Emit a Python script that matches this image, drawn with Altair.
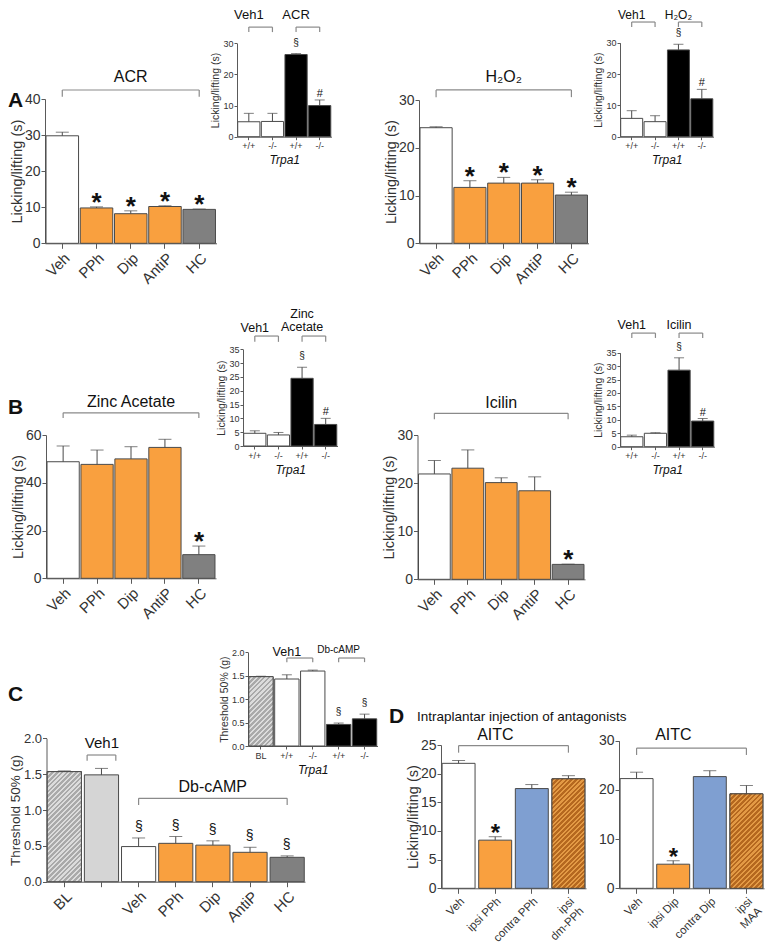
import math
import altair as alt
import pandas as pd

# ---------------- data ----------------
A1_cats = ["Veh", "PPh", "Dip", "AntiP", "HC"]
A1_vals = [29.8, 9.8, 8.2, 10.2, 9.4]
A1_errs = [30.8, 10.1, 9.0, 10.4, 9.5]
A1_grp = ["veh", "ant", "ant", "ant", "hc"]
A1_sig = ["", "*", "*", "*", "*"]

KO_cats = ["+/+|v", "-/-|v", "+/+|d", "-/-|d"]
KO_grp = ["veh", "veh", "ko", "ko"]
KO_sig = ["", "", "§", "#"]

A1i_vals = [4.8, 4.9, 26.4, 10.0]
A1i_errs = [7.5, 7.5, 26.7, 11.8]

A2_vals = [24.2, 11.7, 12.6, 12.6, 10.1]
A2_errs = [24.4, 13.1, 13.8, 13.3, 10.7]
A2_sig = ["", "*", "*", "*", "*"]

A2i_vals = [5.85, 4.8, 27.7, 12.1]
A2i_errs = [8.3, 6.7, 29.5, 15.1]

B1_vals = [48.8, 47.7, 50.0, 54.8, 9.9]
B1_errs = [55.4, 53.7, 55.1, 58.2, 13.5]
B_sig = ["", "", "", "", "*"]

B1i_vals = [4.6, 4.0, 24.5, 7.8]
B1i_errs = [5.5, 4.9, 28.5, 10.0]

B2_vals = [21.9, 23.1, 20.1, 18.4, 3.1]
B2_errs = [24.7, 26.9, 21.1, 21.3, 3.15]

B2i_vals = [3.7, 5.0, 28.5, 9.55]
B2i_errs = [4.3, 5.2, 33.1, 10.5]

C_cats = ["BL", "Veh1", "Veh", "PPh", "Dip", "AntiP", "HC"]
C_vals = [1.535, 1.49, 0.49, 0.535, 0.51, 0.41, 0.34]
C_errs = [1.545, 1.58, 0.61, 0.63, 0.57, 0.48, 0.36]
C_grp = ["bl", "veh1", "veh", "ant", "ant", "ant", "hc"]
C_sig = ["", "", "§", "§", "§", "§", "§"]

Ci_cats = ["BL", "+/+|v", "-/-|v", "+/+|d", "-/-|d"]
Ci_vals = [1.48, 1.43, 1.60, 0.46, 0.58]
Ci_errs = [1.49, 1.52, 1.62, 0.49, 0.68]
Ci_grp = ["bl", "veh", "veh", "ko", "ko"]
Ci_sig = ["", "", "", "§", "§"]

D1_cats = ["Veh", "ipsi PPh", "contra PPh", "ipsi dm-PPh"]
D1_vals = [21.8, 8.4, 17.4, 19.1]
D1_errs = [22.3, 9.0, 18.1, 19.65]
D_grp = ["veh", "ant", "contra", "hatch"]
D_sig = ["", "*", "", ""]

D2_cats = ["Veh", "ipsi Dip", "contra Dip", "ipsi MAA"]
D2_vals = [22.3, 4.9, 22.7, 19.2]
D2_errs = [23.6, 5.6, 23.9, 20.9]

# ---------------- styling / layout ----------------
M = 8
W, H = 757, 936
FONT = "Liberation Sans"
AX = "#5a5a5a"
TXT = "#333333"
BR = "#8a8a8a"
EDGE = "#4a4a4a"

GROUPS = ["veh", "ant", "hc", "ko", "bl", "veh1", "contra", "hatch"]
GROUP_COLORS = ["#ffffff", "#f9a03f", "#808080", "#000000", "#c3c3c3", "#d5d5d5", "#7f9fd1", "#c97d30"]
COLOR = alt.Scale(domain=GROUPS, range=GROUP_COLORS)
HATCH = {"hatch": ("#b5681f", "#e39a45"), "bl": ("#a9a9a9", "#dcdcdc")}

GLYPH_MAIN = {"*": (26, "bold", 4), "§": (14, "normal", -7)}
GLYPH_INSET = {"§": (10, "normal", -8), "#": (11, "normal", -3)}


def px(x):
    return x - M


def py(y):
    return y - M


def hatch_fill(w, h, c1, c2, period=3.4):
    """Diagonal (/) stripes as a hard-stop linear gradient over the bar's box."""
    r = w / h
    k = (r + 1) / (r * r + 1)
    n = max(2, round((w + h) / math.sqrt(2) / period))
    stops = []
    for i in range(n):
        a, m, b = i / n, (i + 0.55) / n, (i + 1) / n
        stops += [alt.GradientStop(offset=a, color=c1), alt.GradientStop(offset=m, color=c1),
                  alt.GradientStop(offset=m, color=c2), alt.GradientStop(offset=b, color=c2)]
    return alt.LinearGradient(gradient="linear", stops=stops, x1=0, y1=0, x2=r * k, y2=k)


def build_panel(cats, vals, errs, grps, sigs, L, brackets):
    """Returns a flat list of unit layers; every layer carries the same explicit scales."""
    df = pd.DataFrame({"cat": cats, "val": vals, "err": errs, "grp": grps, "sig": sigs})
    xs = alt.Scale(domain=list(cats), range=[px(L["x0"]), px(L["x1"])],
                   paddingInner=L["pin"], paddingOuter=L["pout"])
    ys = alt.Scale(domain=L["ydom"], range=[py(L["y0"]), py(L["y1"])], nice=False, zero=True)
    big = L["main"]

    xkw = dict(orient="bottom", offset=py(L["y0"]) - H, domainColor=AX, tickColor=AX,
               labelColor=TXT, labelFont=FONT, grid=False, labelOverlap=False,
               tickSize=5 if big else 3, labelFontSize=L["xlab"], labelPadding=2)
    if big:
        xkw.update(labelAngle=-45, title=None)
    else:
        xkw.update(labelAngle=0, title="Trpa1", titleFontStyle="italic", titleFont=FONT,
                   titleFontSize=12, titleFontWeight="normal", titleColor="#111", titlePadding=4)
    if "xexpr" in L:
        xkw["labelExpr"] = L["xexpr"]

    ykw = dict(orient="left", offset=-px(L["x0"]), values=L["yticks"], title=L["ytitle"],
               domainColor=AX, tickColor=AX, labelColor=TXT, labelFont=FONT, grid=False,
               labelOverlap=False, tickSize=4 if big else 3,
               labelFontSize=L.get("ylab", 14 if big else 9), labelPadding=1,
               titleFont=FONT, titleFontSize=L.get("ytsize", 14.5 if big else 10.5),
               titleFontWeight="normal", titleColor=TXT, titlePadding=L.get("ytpad", 0 if big else 2))
    if "yfmt" in L:
        ykw["format"] = L["yfmt"]

    X = lambda f, **k: alt.X(f, scale=xs, axis=None, **k)
    Y = lambda f: alt.Y(f, scale=ys, axis=None)

    base = alt.Chart(df)
    layers = [
        base.mark_bar(stroke=EDGE, strokeWidth=1).encode(
            x=alt.X("cat:N", scale=xs, axis=alt.Axis(**xkw)),
            y=alt.Y("val:Q", scale=ys, axis=alt.Axis(**ykw)),
            color=alt.Color("grp:N", scale=COLOR, legend=None)),
    ]
    # hatched bars: overlay with a striped fill sized to the bar's box
    n = len(cats)
    step = (L["x1"] - L["x0"]) / (n - L["pin"] + 2 * L["pout"])
    bw = step * (1 - L["pin"])
    span = L["ydom"][1] - L["ydom"][0]
    for c, v, g in zip(cats, vals, grps):
        if g in HATCH:
            bh = v / span * (L["y0"] - L["y1"])
            layers.append(base.transform_filter(alt.datum.cat == c).mark_bar(
                fill=hatch_fill(bw, bh, *HATCH[g]), stroke=EDGE, strokeWidth=1).encode(
                x=X("cat:N"), y=Y("val:Q")))
    layers += [
        base.mark_rule(color=EDGE, strokeWidth=1).encode(
            x=X("cat:N"), y=Y("val:Q"), y2="err:Q"),
        base.mark_tick(color=EDGE, thickness=1, size=L["cap"]).encode(
            x=X("cat:N"), y=Y("err:Q")),
    ]
    gl = L.get("glyph", GLYPH_MAIN if big else GLYPH_INSET)
    for g, (size, weight, dy) in gl.items():
        layers.append(
            base.transform_filter(alt.datum.sig == g).mark_text(
                font=FONT, fontSize=size, fontWeight=weight, dy=dy, baseline="alphabetic",
                color="#111").encode(x=X("cat:N"), y=Y("err:Q"), text="sig:N"))

    for b in brackets:
        hd = pd.DataFrame({"a": [b["a"]], "b": [b["b"]], "y": [b["y"]], "yt": [b["yt"]]})
        layers.append(alt.Chart(hd).mark_rule(color=BR, strokeWidth=1.2).encode(
            x=X("a:N", bandPosition=b.get("pa", 0.5)),
            x2=alt.X2("b:N", bandPosition=b.get("pb", 0.5)),
            y=Y("y:Q")))
        layers.append(alt.Chart(hd).mark_rule(color=BR, strokeWidth=1.2).encode(
            x=X("a:N", bandPosition=b.get("pa", 0.5)), y=Y("yt:Q"), y2="y:Q"))
        layers.append(alt.Chart(hd).mark_rule(color=BR, strokeWidth=1.2).encode(
            x=X("b:N", bandPosition=b.get("pb", 0.5)), y=Y("yt:Q"), y2="y:Q"))
        lines = b["text"] if isinstance(b["text"], list) else [(b["text"], b["ty"])]
        for txt, tyv in lines:
            td = pd.DataFrame({"c": [b["tc"]], "ty": [tyv], "t": [txt]})
            layers.append(alt.Chart(td).mark_text(
                font=FONT, fontSize=b["size"], color="#111", baseline="middle").encode(
                x=X("c:N", bandPosition=b.get("tp", 0.5)), y=Y("ty:Q"), text="t:N"))
    return layers


INSET_EXPR = "split(datum.value, '|')[0]"
LICK = "Licking/lifting (s)"

units = []

# ---- A ----
units += build_panel(A1_cats, A1_vals, A1_errs, A1_grp, A1_sig,
    dict(main=True, x0=45, x1=216.5, y0=243.3, y1=99, ydom=[0, 40], yticks=[0, 10, 20, 30, 40],
         pin=0.05, pout=0.03, cap=13, xlab=15, ytitle=LICK),
    [dict(a="Veh", b="HC", y=42.5, yt=40.6, text="ACR", tc="Dip", ty=46.2, size=16)])

units += build_panel(KO_cats, A1i_vals, A1i_errs, KO_grp, KO_sig,
    dict(main=False, x0=237, x1=331.5, y0=136.7, y1=43.3, ydom=[0, 30], yticks=[0, 10, 20, 30],
         pin=0.06, pout=0.03, cap=10, xlab=9, ytitle=LICK, xexpr=INSET_EXPR),
    [dict(a="+/+|v", b="-/-|v", y=35.2, yt=33.6, text="Veh1", tc="+/+|v", tp=1.0, ty=39.1, size=13),
     dict(a="+/+|d", b="-/-|d", y=35.2, yt=33.6, text="ACR", tc="+/+|d", tp=1.0, ty=39.1, size=13)])

units += build_panel(A1_cats, A2_vals, A2_errs, A1_grp, A2_sig,
    dict(main=True, x0=419, x1=588.5, y0=243.3, y1=100, ydom=[0, 30], yticks=[0, 10, 20, 30],
         pin=0.05, pout=0.03, cap=13, xlab=15, ytitle=LICK),
    [dict(a="Veh", b="HC", y=32.1, yt=30.6, text="H₂O₂", tc="Dip", ty=34.8, size=16)])

units += build_panel(KO_cats, A2i_vals, A2i_errs, KO_grp, KO_sig,
    dict(main=False, x0=620, x1=713.5, y0=136.7, y1=42.7, ydom=[0, 30], yticks=[0, 10, 20, 30],
         pin=0.06, pout=0.03, cap=10, xlab=9, ytitle=LICK, xexpr=INSET_EXPR),
    [dict(a="+/+|v", b="-/-|v", y=36.6, yt=35.0, text="Veh1", tc="+/+|v", tp=1.0, ty=38.84, size=12),
     dict(a="+/+|d", b="-/-|d", y=36.6, yt=35.0, text="H₂O₂", tc="+/+|d", tp=1.0, ty=38.84, size=12)])

# ---- B ----
units += build_panel(A1_cats, B1_vals, B1_errs, A1_grp, B_sig,
    dict(main=True, x0=46, x1=216, y0=578.3, y1=435, ydom=[0, 60], yticks=[0, 20, 40, 60],
         pin=0.05, pout=0.03, cap=13, xlab=15, ytitle=LICK),
    [dict(a="Veh", b="HC", y=69.3, yt=67.1, text="Zinc Acetate", tc="Dip", ty=73.8, size=16)])

units += build_panel(KO_cats, B1i_vals, B1i_errs, KO_grp, KO_sig,
    dict(main=False, x0=243, x1=337.5, y0=446, y1=349.3, ydom=[0, 35],
         yticks=[0, 5, 10, 15, 20, 25, 30, 35],
         pin=0.06, pout=0.03, cap=10, xlab=9, ytitle=LICK, xexpr=INSET_EXPR),
    [dict(a="+/+|v", b="-/-|v", y=39.8, yt=37.7, text="Veh1", tc="+/+|v", tp=1.0, ty=42.7, size=12.5),
     dict(a="+/+|d", b="-/-|d", y=39.8, yt=37.7, text=[("Zinc", 47.8), ("Acetate", 43.1)],
          tc="+/+|d", tp=1.0, size=12.5)])

units += build_panel(A1_cats, B2_vals, B2_errs, A1_grp, B_sig,
    dict(main=True, x0=417.5, x1=585, y0=579.3, y1=435, ydom=[0, 30], yticks=[0, 10, 20, 30],
         pin=0.05, pout=0.03, cap=13, xlab=15, ytitle=LICK),
    [dict(a="Veh", b="HC", y=34.5, yt=33.3, text="Icilin", tc="Dip", ty=36.7, size=16)])

units += build_panel(KO_cats, B2i_vals, B2i_errs, KO_grp, KO_sig,
    dict(main=False, x0=620, x1=714.5, y0=446.7, y1=352.7, ydom=[0, 35],
         yticks=[0, 5, 10, 15, 20, 25, 30, 35],
         pin=0.06, pout=0.03, cap=10, xlab=9, ytitle=LICK, xexpr=INSET_EXPR),
    [dict(a="+/+|v", b="-/-|v", y=42.3, yt=40.5, text="Veh1", tc="+/+|v", tp=1.0, ty=45.3, size=12.5),
     dict(a="+/+|d", b="-/-|d", y=42.3, yt=40.5, text="Icilin", tc="+/+|d", tp=1.0, ty=45.3, size=12.5)])

# ---- C ----
units += build_panel(C_cats, C_vals, C_errs, C_grp, C_sig,
    dict(main=True, x0=46.5, x1=305, y0=881.7, y1=738.3, ydom=[0, 2],
         yticks=[0, 0.5, 1.0, 1.5, 2.0], yfmt=".1f", ylab=13, ytsize=13.5, ytpad=1,
         pin=0.08, pout=0.02, cap=13, xlab=15, ytitle="Threshold 50% (g)",
         xexpr="datum.value == 'Veh1' ? '' : datum.label"),
    [dict(a="Veh1", pa=0.08, b="Veh1", pb=0.92, y=1.767, yt=1.688, text="Veh1", tc="Veh1", ty=1.93, size=15),
     dict(a="Veh", b="HC", y=1.163, yt=1.07, text="Db-cAMP", tc="Dip", ty=1.325, size=16)])

units += build_panel(Ci_cats, Ci_vals, Ci_errs, Ci_grp, Ci_sig,
    dict(main=False, x0=248, x1=377.5, y0=746, y1=652.3, ydom=[0, 2],
         yticks=[0, 0.5, 1.0, 1.5, 2.0], yfmt=".1f",
         pin=0.06, pout=0.03, cap=10, xlab=9, ytitle="Threshold 50% (g)", xexpr=INSET_EXPR),
    [dict(a="+/+|v", b="-/-|v", y=1.878, yt=1.79, text="Veh1", tc="+/+|v", tp=1.0, ty=2.01, size=12.5),
     dict(a="+/+|d", b="-/-|d", y=1.878, yt=1.79, text="Db-cAMP", tc="+/+|d", tp=1.0, ty=2.04, size=10)])

# ---- D ----
D_EXPR = ("datum.value == 'ipsi dm-PPh' ? ['ipsi', 'dm-PPh'] : "
          "datum.value == 'ipsi MAA' ? ['ipsi', 'MAA'] : datum.label")
units += build_panel(D1_cats, D1_vals, D1_errs, D_grp, D_sig,
    dict(main=True, x0=441, x1=586, y0=888.3, y1=745, ydom=[0, 25], yticks=[0, 5, 10, 15, 20, 25],
         pin=0.1, pout=0.03, cap=13, xlab=11.5, ytitle=LICK, xexpr=D_EXPR,
         glyph={"*": (24, "bold", 4)}),
    [dict(a="Veh", b="ipsi dm-PPh", y=24.9, yt=23.66, text="AITC", tc="ipsi PPh", tp=1.0, ty=26.7, size=16)])

units += build_panel(D2_cats, D2_vals, D2_errs, D_grp, D_sig,
    dict(main=True, x0=619, x1=764, y0=888.3, y1=740.7, ydom=[0, 30], yticks=[0, 10, 20, 30],
         pin=0.1, pout=0.03, cap=13, xlab=11.5, ytitle=None, xexpr=D_EXPR,
         glyph={"*": (24, "bold", 4)}),
    [dict(a="Veh", b="ipsi MAA", y=28.5, yt=27.1, text="AITC", tc="ipsi Dip", tp=1.0, ty=31.2, size=16)])


def annot(text, x, y, size, weight="normal", align="left"):
    return alt.Chart(pd.DataFrame({"t": [text]})).mark_text(
        font=FONT, fontSize=size, fontWeight=weight, align=align, baseline="middle", color="#111"
    ).encode(x=alt.value(px(x)), y=alt.value(py(y)), text="t:N")


annots = [
    annot("A", 8, 101, 21, "bold"),
    annot("B", 8, 408, 21, "bold"),
    annot("C", 8, 695, 21, "bold"),
    annot("D", 389, 717, 21, "bold"),
    annot("Intraplantar injection of antagonists", 417, 717, 13.5),
]

chart = alt.layer(*units, *annots).resolve_scale(
    x="independent", y="independent"
).resolve_axis(
    x="independent", y="independent"
).properties(
    width=W, height=H, padding=0, autosize=alt.AutoSizeParams(type="none")
).configure_view(stroke=None)

chart.save("out.html", embed_options={"renderer": "svg", "actions": False})
